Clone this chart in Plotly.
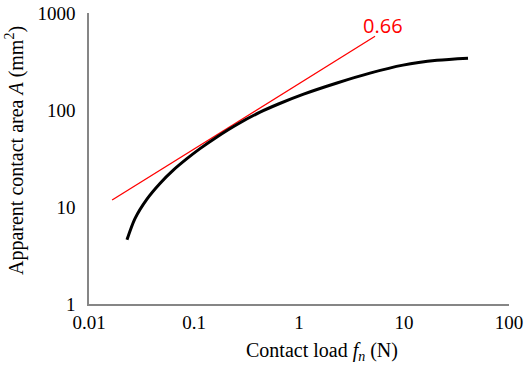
import plotly.graph_objects as go

# Black curve: contact load (N) vs apparent contact area (mm^2)
load_n = [0.0230, 0.0274, 0.0355, 0.0474, 0.0635, 0.085, 0.114, 0.164, 0.257,
          0.426, 0.646, 1.09, 2.30, 4.74, 9.78, 20.6, 40.7]
area_mm2 = [4.6, 7.6, 12.0, 17.5, 24.0, 31.3, 40.0, 52.5, 71.0,
            95, 116, 145, 190, 240, 290, 325, 342]

# Red fitted line with slope 0.66
fit_x = [0.0166, 5.3]
fit_y = [11.8, 575]
fit_label = "0.66"

x_ticks = [0.01, 0.1, 1, 10, 100]
x_ticktext = ["0.01", "0.1", "1", "10", "100"]
y_ticks = [1, 10, 100, 1000]
y_ticktext = ["1", "10", "100", "1000"]

x_title = "Contact load <i>f<sub>n</sub></i> (N)"
y_title = "Apparent contact area <i>A</i> (mm<sup>2</sup>)"

fig = go.Figure()
fig.add_trace(go.Scatter(x=fit_x, y=fit_y, mode="lines",
                         line=dict(color="#ff0000", width=1.3), showlegend=False))
fig.add_trace(go.Scatter(x=load_n, y=area_mm2, mode="lines",
                         line=dict(color="black", width=3, shape="spline", smoothing=0.8),
                         showlegend=False))

fig.add_annotation(x=0.8, y=2.875, xref="x", yref="y", text=fit_label, showarrow=False,
                   font=dict(family="Open Sans, Liberation Sans", size=20, color="#ff0000"),
                   xanchor="center", yanchor="middle")

serif = "Liberation Serif, Times New Roman, serif"

# axis titles placed as in the reference (x title sits right of the plot centre)
fig.add_annotation(x=0.555, y=-0.162, xref="paper", yref="paper", text=x_title,
                   showarrow=False, xanchor="center", yanchor="middle",
                   font=dict(family=serif, size=20, color="black"))
fig.add_annotation(x=-0.176, y=0.526, xref="paper", yref="paper", text=y_title,
                   showarrow=False, xanchor="center", yanchor="middle", textangle=-90,
                   font=dict(family=serif, size=20, color="black"))

fig.update_layout(
    width=525, height=367,
    margin=dict(l=89, r=16, t=13, b=63),
    paper_bgcolor="white", plot_bgcolor="white",
    font=dict(family=serif, size=18, color="black"),
    xaxis=dict(type="log", range=[-2, 2], tickvals=x_ticks, ticktext=x_ticktext,
               automargin=False,
               showgrid=False, zeroline=False, showline=True, linecolor="#868686", linewidth=1.5,
               ticks="", tickfont=dict(family=serif, size=19), ticklabeloverflow="allow"),
    yaxis=dict(type="log", range=[0, 3], tickvals=y_ticks, ticktext=y_ticktext,
               automargin=False,
               showgrid=False, zeroline=False, showline=True, linecolor="#868686", linewidth=1.5,
               ticks="", tickfont=dict(family=serif, size=19), ticklabeloverflow="allow",
               ticklabelstandoff=8),
)

# remove the default page margin so the 525x367 figure fills the window exactly
fig.write_html("out.html", config={"displayModeBar": False},
               post_script="document.body.style.margin='0';document.body.style.overflow='hidden';")
